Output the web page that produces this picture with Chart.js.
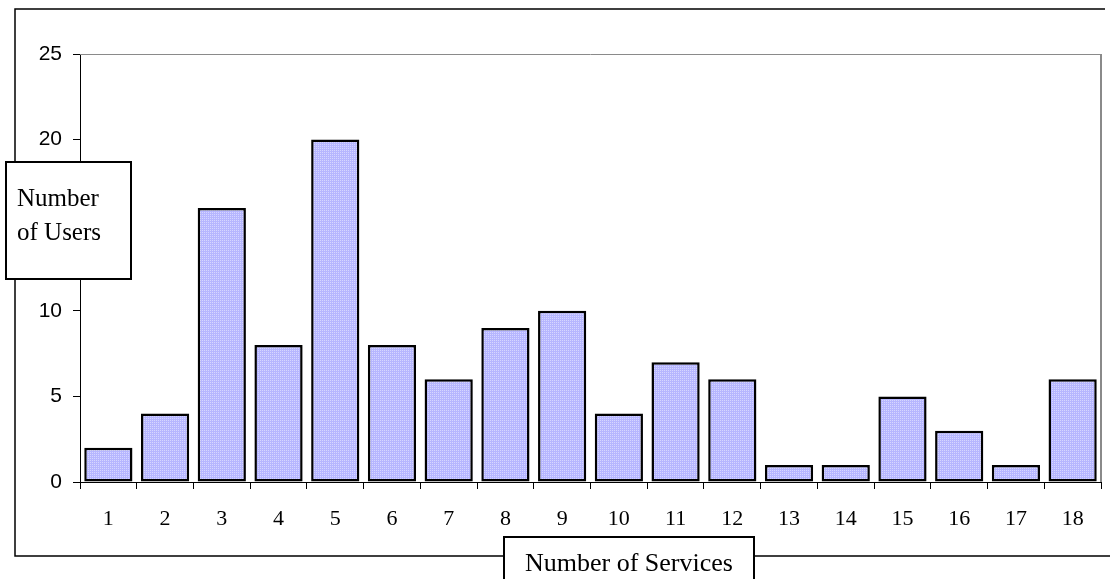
<!DOCTYPE html>
<html>
<head>
<meta charset="utf-8">
<script src="https://cdn.jsdelivr.net/npm/chart.js@4/dist/chart.umd.min.js"></script>
<style>
  body { margin: 0; background: #fff; }
  #wrap { width: 1110px; height: 579px; }
</style>
</head>
<body>
<div id="wrap"><canvas id="chart" width="1110" height="579"></canvas></div>
<script>
// Données
const categories = ['1', '2', '3', '4', '5', '6', '7', '8', '9', '10', '11', '12', '13', '14', '15', '16', '17', '18'];
const users = [2, 4, 16, 8, 20, 8, 6, 9, 10, 4, 7, 6, 1, 1, 5, 3, 1, 6];
const yTitleLines = ['Number', 'of Users'];
const xTitle = 'Number of Services';

// Motif de remplissage (trame lavande)
function makePattern() {
  const c = document.createElement('canvas');
  c.width = 4; c.height = 4;
  const g = c.getContext('2d');
  g.fillStyle = '#b6b6ff';
  g.fillRect(0, 0, 4, 4);
  g.fillStyle = '#d6d6ff';
  g.fillRect(0, 0, 1, 1);
  g.fillRect(2, 2, 1, 1);
  g.fillRect(2, 0, 1, 1);
  g.fillRect(0, 2, 1, 1);
  return g.createPattern(c, 'repeat');
}

// Cadre, bordures et boîtes de titres
const decor = {
  id: 'decor',
  beforeDraw(chart) {
    const ctx = chart.ctx;
    ctx.save();
    ctx.fillStyle = '#fff';
    ctx.fillRect(0, 0, chart.width, chart.height);
    ctx.strokeStyle = '#000';
    ctx.lineWidth = 1.5;
    ctx.beginPath();
    ctx.moveTo(1105, 9);
    ctx.lineTo(15, 9);
    ctx.lineTo(15, 556);
    ctx.lineTo(1110, 556);
    ctx.stroke();
    ctx.restore();
  },
  afterDraw(chart) {
    const ctx = chart.ctx;
    const a = chart.chartArea;
    ctx.save();
    // bordure haut / droite grise
    ctx.strokeStyle = '#8a8a8a';
    ctx.lineWidth = 1;
    ctx.beginPath();
    ctx.moveTo(a.left, a.top + 0.5);
    ctx.lineTo(a.right, a.top + 0.5);
    ctx.stroke();
    ctx.lineWidth = 2;
    ctx.beginPath();
    ctx.moveTo(a.right, a.top);
    ctx.lineTo(a.right, a.bottom);
    ctx.stroke();

    // boîte titre Y
    ctx.fillStyle = '#fff';
    ctx.strokeStyle = '#000';
    ctx.lineWidth = 2;
    ctx.fillRect(6, 162, 125, 117);
    ctx.strokeRect(6, 162, 125, 117);
    ctx.fillStyle = '#000';
    ctx.font = '25px "Liberation Serif"';
    ctx.textAlign = 'left';
    ctx.textBaseline = 'alphabetic';
    ctx.fillText(yTitleLines[0], 17, 206);
    ctx.fillText(yTitleLines[1], 17, 240);

    // boîte titre X
    ctx.fillStyle = '#fff';
    ctx.fillRect(504, 537, 250, 60);
    ctx.strokeRect(504, 537, 250, 60);
    ctx.fillStyle = '#000';
    ctx.font = '26px "Liberation Serif"';
    ctx.fillText(xTitle, 525, 571);
    ctx.restore();
  }
};

const ctx = document.getElementById('chart').getContext('2d');
new Chart(ctx, {
  type: 'bar',
  data: {
    labels: categories,
    datasets: [{
      data: users,
      backgroundColor: makePattern(),
      borderColor: '#000',
      borderWidth: 2.5,
      borderSkipped: false,
      barPercentage: 0.85,
      categoryPercentage: 1
    }]
  },
  options: {
    responsive: false,
    devicePixelRatio: 1,
    animation: false,
    layout: { padding: { top: 54, right: 9, left: 0, bottom: 0 } },
    plugins: {
      legend: { display: false },
      tooltip: { enabled: false }
    },
    scales: {
      x: {
        afterFit: s => { s.height = 97; },
        grid: { display: true, drawOnChartArea: false, offset: true, tickLength: 7, color: '#000', lineWidth: 1 },
        border: { display: true, color: '#000', width: 1 },
        ticks: { color: '#000', padding: 17, maxRotation: 0, autoSkip: false, font: { family: 'Liberation Serif', size: 22 } }
      },
      y: {
        min: 0,
        max: 25,
        afterFit: s => { s.width = 80; },
        grid: { display: true, drawOnChartArea: false, tickLength: 7, color: '#000', lineWidth: 1 },
        border: { display: true, color: '#000', width: 1 },
        ticks: { stepSize: 5, color: '#000', padding: 11, font: { family: 'Liberation Sans', size: 21 } }
      }
    }
  },
  plugins: [decor]
});
</script>
</body>
</html>
